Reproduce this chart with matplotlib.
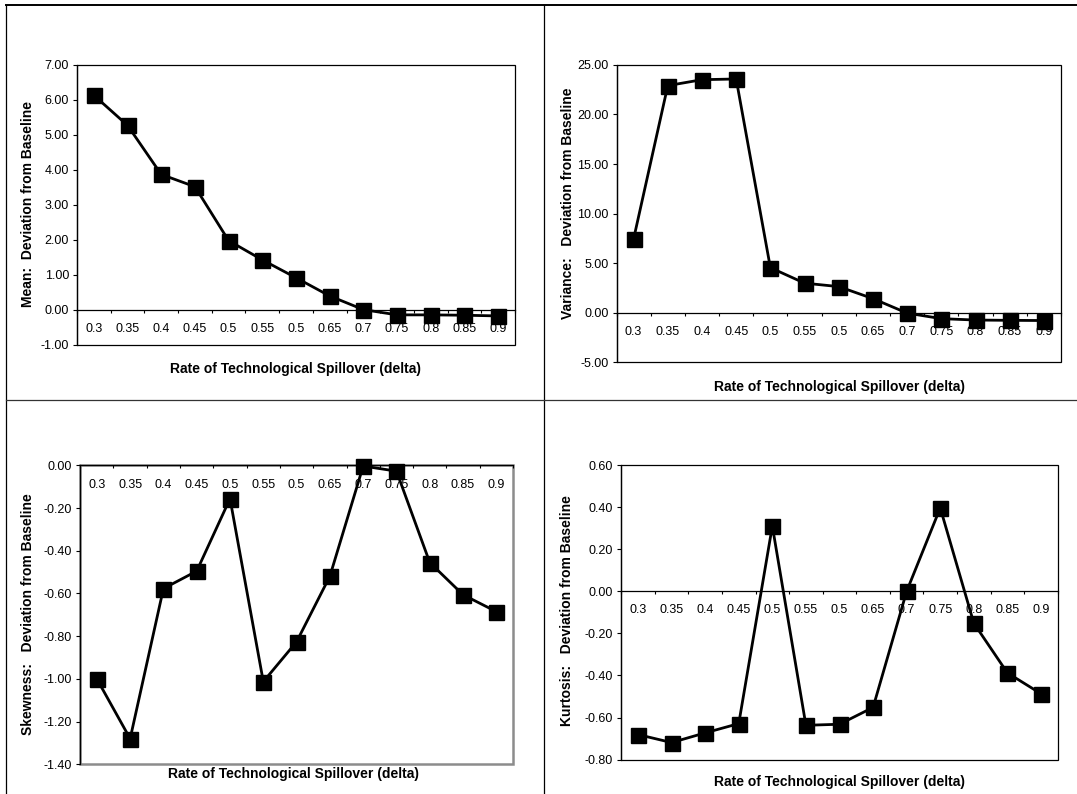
import matplotlib
matplotlib.use("Agg")
import matplotlib.pyplot as plt
from matplotlib.lines import Line2D
from matplotlib.patches import Rectangle
from matplotlib.ticker import FormatStrFormatter, FixedLocator

plt.rcParams['font.family'] = ['Liberation Sans', 'DejaVu Sans']
plt.rcParams['axes.unicode_minus'] = False

# ---- data ----
categories = ["0.3", "0.35", "0.4", "0.45", "0.5", "0.55", "0.5",
              "0.65", "0.7", "0.75", "0.8", "0.85", "0.9"]
mean_dev = [6.13, 5.27, 3.87, 3.52, 1.98, 1.43, 0.92, 0.40, 0.01,
            -0.14, -0.14, -0.15, -0.17]
variance_dev = [7.44, 22.90, 23.50, 23.57, 4.55, 2.99, 2.64, 1.43, -0.03,
                -0.59, -0.73, -0.76, -0.78]
skewness_dev = [-1.00, -1.28, -0.577, -0.495, -0.156, -1.013, -0.826,
                -0.519, -0.003, -0.027, -0.455, -0.606, -0.685]
kurtosis_dev = [-0.681, -0.719, -0.673, -0.629, 0.310, -0.637, -0.632,
                -0.552, 0.00, 0.396, -0.152, -0.388, -0.487]

ylabels = ["Mean:  Deviation from Baseline",
           "Variance:   Deviation from Baseline",
           "Skewness:   Deviation from Baseline",
           "Kurtosis:   Deviation from Baseline"]
xlabel = "Rate of Technological Spillover (delta)"
yranges = [(-1.0, 7.0, 1.0), (-5.0, 25.0, 5.0), (-1.4, 0.0, 0.2), (-0.8, 0.6, 0.2)]

W, H = 1077, 794
fig = plt.figure(figsize=(W / 100, H / 100), dpi=100)


def fx(px):
    return px / W


def fy(py):
    return 1 - py / H


# axes boxes in pixels: left, right, top, bottom
boxes = [(77, 515, 64.8, 345), (616.5, 1061, 64.8, 362.4),
         (80.2, 513, 465.4, 764.3), (621.2, 1057.8, 465, 759.6)]
xlabel_pos = [(296, 369), (839, 386.6), (293, 773.6), (839.5, 781.8)]
ylabel_pos = [(28, 204), (567.5, 203), (28, 614), (567, 611)]
series = [mean_dev, variance_dev, skewness_dev, kurtosis_dev]

for i, (vals, box) in enumerate(zip(series, boxes)):
    l, r, t, b = box
    ax = fig.add_axes([fx(l), fy(b), (r - l) / W, (b - t) / H])
    lo, hi, step = yranges[i]
    n = len(categories)
    ax.set_xlim(-0.5, n - 0.5)
    ax.set_ylim(lo, hi)
    yt = [lo + k * step for k in range(int(round((hi - lo) / step)) + 1)]
    ax.set_yticks(yt)
    ax.yaxis.set_major_formatter(FormatStrFormatter('%.2f'))

    xs = list(range(n))
    ax.xaxis.set_major_locator(FixedLocator(xs))
    ax.set_xticklabels(categories)
    ax.xaxis.set_minor_locator(FixedLocator([k - 0.5 for k in range(n + 1)]))
    ax.tick_params(axis='x', which='major', length=0, pad=9.5, labelsize=9)
    ax.tick_params(axis='x', which='minor', length=2.5, width=0.8,
                   direction='out', color='black')
    ax.tick_params(axis='y', which='major', length=2.8, width=0.8,
                   direction='out', pad=3, labelsize=9)

    ax.spines['bottom'].set_position(('data', 0))
    ax.spines['bottom'].set_linewidth(0.9)
    ax.spines['bottom'].set_zorder(3)
    ax.spines['left'].set_linewidth(0.9)
    ax.spines['top'].set_visible(False)
    ax.spines['right'].set_visible(False)

    if i == 2:
        frame = Rectangle((0, 0), 1, 1, transform=ax.transAxes, fill=False,
                          edgecolor='#8c8c8c', linewidth=1.8, zorder=1,
                          clip_on=False)
    else:
        frame = Rectangle((0, 0), 1, 1, transform=ax.transAxes, fill=False,
                          edgecolor='black', linewidth=0.9, zorder=1,
                          clip_on=False)
    ax.add_patch(frame)

    ax.plot(xs, vals, color='black', linewidth=2.0, marker='s',
            markersize=10.8, markerfacecolor='black', markeredgecolor='black',
            clip_on=False, zorder=5)

    xlp, ylp = xlabel_pos[i]
    fig.text(fx(xlp), fy(ylp), xlabel, ha='center', va='center',
             fontsize=10, fontweight='bold')
    ylx, yly = ylabel_pos[i]
    fig.text(fx(ylx), fy(yly), ylabels[i], ha='center', va='center',
             rotation=90, fontsize=10, fontweight='bold')

# table-like cell borders
fig.add_artist(Line2D([fx(6), 1], [fy(4.5), fy(4.5)], color='black',
                      linewidth=1.4, transform=fig.transFigure))
fig.add_artist(Line2D([fx(6), fx(6)], [fy(4.5), 0], color='black',
                      linewidth=0.9, transform=fig.transFigure))
fig.add_artist(Line2D([fx(544), fx(544)], [fy(4.5), 0], color='black',
                      linewidth=0.9, transform=fig.transFigure))
fig.add_artist(Line2D([fx(6), 1], [fy(399.5), fy(399.5)], color='#333333',
                      linewidth=0.9, transform=fig.transFigure))

fig.savefig("out.png", dpi=100)
